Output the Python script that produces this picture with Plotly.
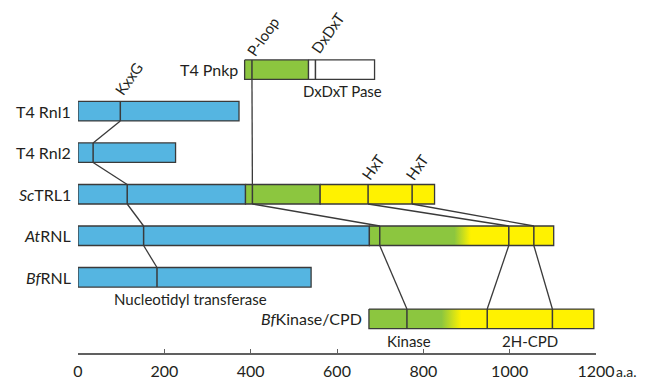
import plotly.graph_objects as go

# ---------------- data ----------------
proteins = ["T4 Pnkp", "T4 Rnl1", "T4 Rnl2", "ScTRL1", "AtRNL", "BfRNL", "BfKinase/CPD"]
protein_labels = ["T4 Pnkp", "T4 Rnl1", "T4 Rnl2", "<i>Sc</i>TRL1", "<i>At</i>RNL", "<i>Bf</i>RNL", "<i>Bf</i>Kinase/CPD"]

# domain segments (amino-acid coordinates)
seg_protein = ["T4 Pnkp", "T4 Pnkp", "T4 Rnl1", "T4 Rnl2", "ScTRL1", "ScTRL1", "ScTRL1",
               "AtRNL", "AtRNL", "BfRNL", "BfKinase/CPD"]
seg_start = [386, 534, 0, 0, 0, 388, 561, 0, 675, 0, 674]
seg_end = [534, 687, 373, 226, 388, 561, 826, 675, 1102, 540, 1195]
seg_type_from = ["kinase", "pase", "ligase", "ligase", "ligase", "kinase", "cpd",
                 "ligase", "kinase", "ligase", "kinase"]
seg_type_to = ["kinase", "pase", "ligase", "ligase", "ligase", "kinase", "cpd",
               "ligase", "cpd", "ligase", "cpd"]
seg_blend_start = [None, None, None, None, None, None, None, None, 872, None, 842]
seg_blend_end = [None, None, None, None, None, None, None, None, 910, None, 888]

# conserved motif positions
motif_protein = ["T4 Pnkp", "T4 Pnkp", "T4 Rnl1", "T4 Rnl2", "ScTRL1", "ScTRL1", "ScTRL1", "ScTRL1",
                 "AtRNL", "AtRNL", "AtRNL", "AtRNL", "BfRNL", "BfKinase/CPD", "BfKinase/CPD", "BfKinase/CPD"]
motif_pos = [403, 550, 98, 35, 114, 404, 672, 774, 152, 699, 998, 1056, 183, 762, 948, 1099]

# connections between motifs (from protein, position) -> (to protein, position)
link_from_protein = ["T4 Rnl1", "T4 Rnl2", "ScTRL1", "AtRNL", "T4 Pnkp", "ScTRL1", "ScTRL1", "ScTRL1",
                     "AtRNL", "AtRNL", "AtRNL"]
link_from_pos = [98, 35, 114, 152, 403, 404, 672, 774, 699, 998, 1056]
link_to_protein = ["T4 Rnl2", "ScTRL1", "AtRNL", "BfRNL", "ScTRL1", "AtRNL", "AtRNL", "AtRNL",
                   "BfKinase/CPD", "BfKinase/CPD", "BfKinase/CPD"]
link_to_pos = [35, 114, 152, 183, 404, 699, 998, 1056, 762, 948, 1099]

# motif name labels
motif_label_text = ["KxxG", "P-loop", "DxDxT", "HxT", "HxT"]
motif_label_protein = ["T4 Rnl1", "T4 Pnkp", "T4 Pnkp", "ScTRL1", "ScTRL1"]
motif_label_pos = [98, 403, 550, 672, 774]

# domain name labels
domain_label_text = ["DxDxT Pase", "Nucleotidyl transferase", "Kinase", "2H-CPD"]
domain_label_protein = ["T4 Pnkp", "BfRNL", "BfKinase/CPD", "BfKinase/CPD"]
domain_label_pos = [612, 261, 766, 1047]

tick_vals = [0, 200, 400, 600, 800, 1000, 1200]
tick_text = ["0", "200", "400", "600", "800", "1000", "1200"]
unit_label = "a.a."

# ---------------- styling ----------------
colors = {"ligase": "#55b5e1", "kinase": "#8cc63f", "cpd": "#fff200", "pase": "#ffffff"}
edge = "#3a3a3a"
txt = "#231f20"
FONT = "Lato"
H = 0.235  # half bar height in row units
row = {p: i for i, p in enumerate(proteins)}

fig = go.Figure()

# domain bars
for p, x0, x1, cf, ct, b0, b1 in zip(seg_protein, seg_start, seg_end, seg_type_from,
                                      seg_type_to, seg_blend_start, seg_blend_end):
    y = row[p]
    kw = dict(
        x=[x0, x1, x1, x0, x0],
        y=[y - H, y - H, y + H, y + H, y - H],
        mode="lines", fill="toself",
        line=dict(color=edge, width=1.3),
        hoverinfo="skip", showlegend=False,
        fillcolor=colors[cf],
    )
    if b0 is not None:
        kw["fillgradient"] = dict(
            type="horizontal", start=b0, stop=b1,
            colorscale=[[0, colors[cf]], [1, colors[ct]]],
        )
    fig.add_trace(go.Scatter(**kw))

shapes = []
# motif lines inside bars
for p, m in zip(motif_protein, motif_pos):
    y = row[p]
    shapes.append(dict(type="line", xref="x", yref="y", x0=m, x1=m, y0=y - H, y1=y + H,
                       line=dict(color=edge, width=1.5)))
# connection lines
for pf, mf, pt, mt in zip(link_from_protein, link_from_pos, link_to_protein, link_to_pos):
    shapes.append(dict(type="line", xref="x", yref="y", x0=mf, x1=mt,
                       y0=row[pf] + H, y1=row[pt] - H,
                       line=dict(color=edge, width=1.3)))

annotations = []
# protein labels
for p, lab in zip(proteins, protein_labels):
    start = min(s for sp, s in zip(seg_protein, seg_start) if sp == p)
    annotations.append(dict(x=start, y=row[p], xref="x", yref="y", text=lab,
                            showarrow=False, xanchor="right", yanchor="middle",
                            xshift=-5, font=dict(family=FONT, size=16, color=txt)))
# motif labels (rotated)
motif_shift = {"KxxG": (9, 23), "P-loop": (11, 24), "DxDxT": (12, 27), "HxT": (5, 17)}
for t, p, m in zip(motif_label_text, motif_label_protein, motif_label_pos):
    dx, dy = motif_shift[t]
    annotations.append(dict(x=m, y=row[p] - H, xref="x", yref="y", text=t,
                            showarrow=False, xanchor="center", yanchor="middle",
                            textangle=-55, xshift=dx, yshift=dy,
                            font=dict(family=FONT, size=15, color=txt)))
# domain labels (below bars)
for t, p, m in zip(domain_label_text, domain_label_protein, domain_label_pos):
    annotations.append(dict(x=m, y=row[p] + H, xref="x", yref="y", text=t,
                            showarrow=False, xanchor="center", yanchor="top",
                            yshift=-1, font=dict(family=FONT, size=15, color=txt)))
# unit label
annotations.append(dict(x=1200, y=0, xref="x", yref="paper", text=unit_label,
                        showarrow=False, xanchor="left", yanchor="middle",
                        xshift=18, yshift=-18, font=dict(family=FONT, size=14, color=txt)))

# page has an 8px body margin: shrink the figure so that the window is filled exactly
PAGE = 8
W, HT = 646 - PAGE, 381 - PAGE
# rows: centre of row 0 at window px 63, row spacing 42.5 px; axis line at window px 353
top_px, bottom_px, first_px, step_px = 5, 353, 63, 42.5
y_top = (top_px - first_px) / step_px
y_bottom = (bottom_px - first_px) / step_px

fig.update_layout(
    width=W, height=HT,
    margin=dict(l=78 - PAGE, r=50, t=top_px, b=381 - bottom_px, autoexpand=False),
    paper_bgcolor="white", plot_bgcolor="white",
    shapes=shapes, annotations=annotations,
    showlegend=False,
    xaxis=dict(range=[0, 1200], tickvals=tick_vals, ticktext=tick_text,
               showgrid=False, zeroline=False, showline=True, linecolor="#606060",
               linewidth=1.5, ticks="inside", ticklen=4, tickcolor="#606060",
               ticklabelstandoff=3,
               tickfont=dict(family=FONT, size=16, color=txt), fixedrange=True),
    yaxis=dict(range=[y_bottom, y_top], visible=False, fixedrange=True),
)

fig.write_html("out.html")
